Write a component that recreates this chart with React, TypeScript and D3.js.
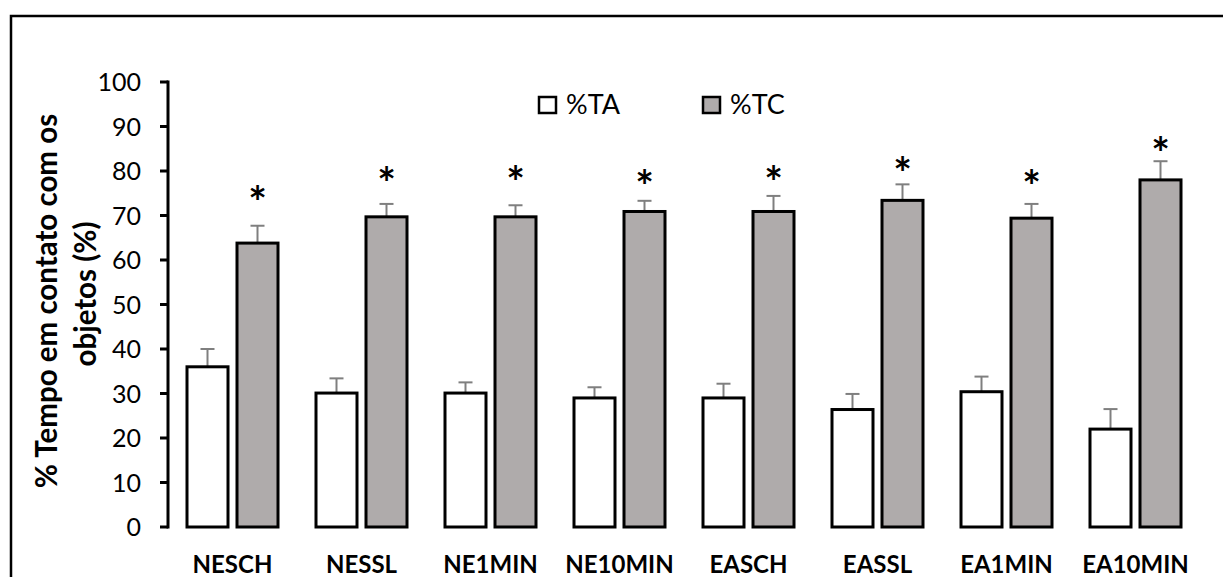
import React from "react";
import * as d3 from "d3";

// values
const groups = ["NESCH", "NESSL", "NE1MIN", "NE10MIN", "EASCH", "EASSL", "EA1MIN", "EA10MIN"];
const ta = [36, 30.1, 30.1, 29, 29, 26.4, 30.4, 22];
const taErr = [4, 3.3, 2.4, 2.4, 3.2, 3.5, 3.4, 4.5];
const tc = [63.8, 69.7, 69.7, 70.9, 70.9, 73.4, 69.4, 78];
const tcErr = [3.9, 2.9, 2.6, 2.4, 3.5, 3.6, 3.2, 4.2];
// height (in % units) where each significance star sits
const starLevel = [75.3, 79.6, 79.8, 78.9, 79.8, 81.7, 78.9, 86.2];
const yTicks = [0, 10, 20, 30, 40, 50, 60, 70, 80, 90, 100];
const seriesNames = ["%TA", "%TC"];
const seriesFill = ["#ffffff", "#afabab"];

const W = 1223;
const H = 577;
const FONT = "Lato, 'Open Sans', sans-serif";

export default function App() {
  const x = d3.scaleBand().domain(groups).range([168, 1200]);
  const inner = d3.scaleBand().domain(seriesNames).range([0, x.bandwidth()]).paddingInner(0.18).paddingOuter(0.38);
  const y = d3.scaleLinear().domain([0, 100]).range([527, 82]);

  const series = [
    { name: seriesNames[0], vals: ta, errs: taErr, fill: seriesFill[0] },
    { name: seriesNames[1], vals: tc, errs: tcErr, fill: seriesFill[1] },
  ];

  return (
    <svg width={W} height={H} style={{ position: "absolute", left: 0, top: 0, fontFamily: FONT }}>
      <rect x={0} y={0} width={W} height={H} fill="#fff" />
      {/* outer frame */}
      <rect x={11} y={16} width={1240} height={700} fill="none" stroke="#000" strokeWidth={2.5} />

      {/* bars */}
      {series.map((s) =>
        groups.map((g, i) => {
          const bx = (x(g) as number) + (inner(s.name) as number);
          const bw = inner.bandwidth();
          const cx = bx + bw / 2;
          return (
            <g key={s.name + g}>
              <line x1={cx} x2={cx} y1={y(s.vals[i])} y2={y(s.vals[i] + s.errs[i])} stroke="#7f7f7f" strokeWidth={2} />
              <line x1={cx - 7} x2={cx + 7} y1={y(s.vals[i] + s.errs[i])} y2={y(s.vals[i] + s.errs[i])} stroke="#7f7f7f" strokeWidth={2} />
              <rect x={bx} y={y(s.vals[i])} width={bw} height={y(0) - y(s.vals[i])} fill={s.fill} stroke="#000" strokeWidth={3} />
            </g>
          );
        })
      )}

      {/* significance marks */}
      {groups.map((g, i) => {
        const cx = (x(g) as number) + (inner("%TC") as number) + inner.bandwidth() / 2;
        return (
          <text key={"ast" + g} x={cx} y={y(starLevel[i]) + 26} textAnchor="middle" fontSize={44} fontWeight={700}>
            *
          </text>
        );
      })}

      {/* y axis */}
      <line x1={168} x2={168} y1={y(100) - 1.5} y2={y(0) + 1.5} stroke="#000" strokeWidth={3} />
      {yTicks.map((t) => (
        <g key={t}>
          <line x1={160} x2={168} y1={y(t)} y2={y(t)} stroke="#000" strokeWidth={3} />
          <text x={141} y={y(t)} dy="0.36em" textAnchor="end" fontSize={25} fill="#000">
            {t}
          </text>
        </g>
      ))}

      {/* x labels */}
      {groups.map((g) => (
        <text key={"lab" + g} x={(x(g) as number) + x.bandwidth() / 2} y={573} textAnchor="middle" fontSize={24} fontWeight={700}>
          {g}
        </text>
      ))}

      {/* y title */}
      <text transform="translate(57,301) rotate(-90)" textAnchor="middle" fontSize={29.5} fontWeight={700}>
        % Tempo em contato com os
      </text>
      <text transform="translate(96,294) rotate(-90)" textAnchor="middle" fontSize={29.5} fontWeight={700}>
        objetos (%)
      </text>

      {/* legend */}
      {series.map((s, i) => (
        <g key={"leg" + s.name} transform={`translate(${539 + i * 164},97)`}>
          <rect x={0} y={0} width={17} height={16} fill={s.fill} stroke="#000" strokeWidth={2.5} />
          <text x={27} y={17} fontSize={27}>
            {s.name}
          </text>
        </g>
      ))}
    </svg>
  );
}
